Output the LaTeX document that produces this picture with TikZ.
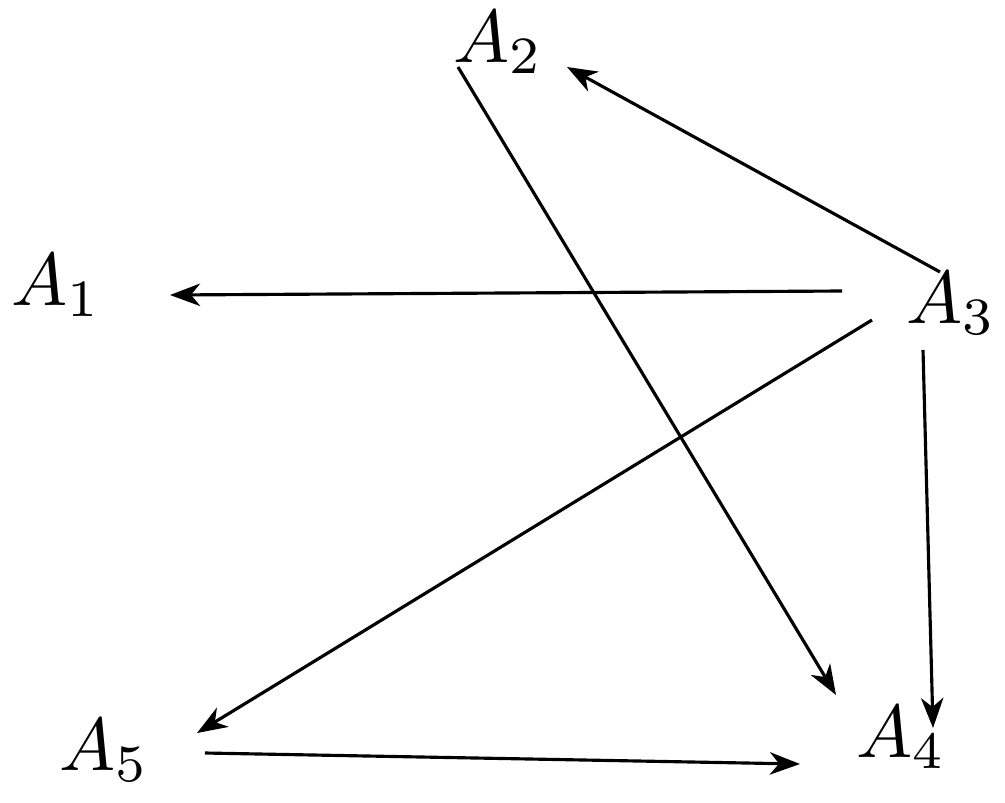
\documentclass[tikz,border=0pt]{standalone}
\usetikzlibrary{arrows.meta,calc}
\begin{document}
\begin{tikzpicture}[x=0.142857pt,y=-0.142857pt,
  lbl/.style={inner sep=0pt,anchor=base west,scale=1.07,transform shape},
  edge/.style={line width=0.45pt,-{Stealth[length=4.3pt,width=3.2pt,inset=1.3pt]}}]
\useasboundingbox (0,0) rectangle (1005,802);
\node[lbl] (a1) at (10,305) {$A_1$};
\node[lbl] (a2) at (452,62) {$A_2$};
\node[lbl] (a3) at (905,323) {$A_3$};
\node[lbl] (a4) at (855,757) {$A_4$};
\node[lbl] (a5) at (58,770) {$A_5$};
\draw[edge] ($(a3.base west)+(35,-51)$) -- ($(a2.base west)+(115,5)$);
\draw[edge] ($(a3.base west)+(-63,-32)$) -- ($(a1.base west)+(160,-10)$);
\draw[edge] ($(a3.base west)+(-33,-3)$) -- ($(a5.base west)+(139,-37)$);
\draw[edge] ($(a3.base west)+(18,27)$) -- ($(a4.base west)+(78,-29)$);
\draw[edge] ($(a2.base west)+(6,5)$) -- ($(a4.base west)+(-19,-62)$);
\draw[edge] ($(a5.base west)+(147,-17)$) -- ($(a4.base west)+(-55,7)$);
\end{tikzpicture}
\end{document}
